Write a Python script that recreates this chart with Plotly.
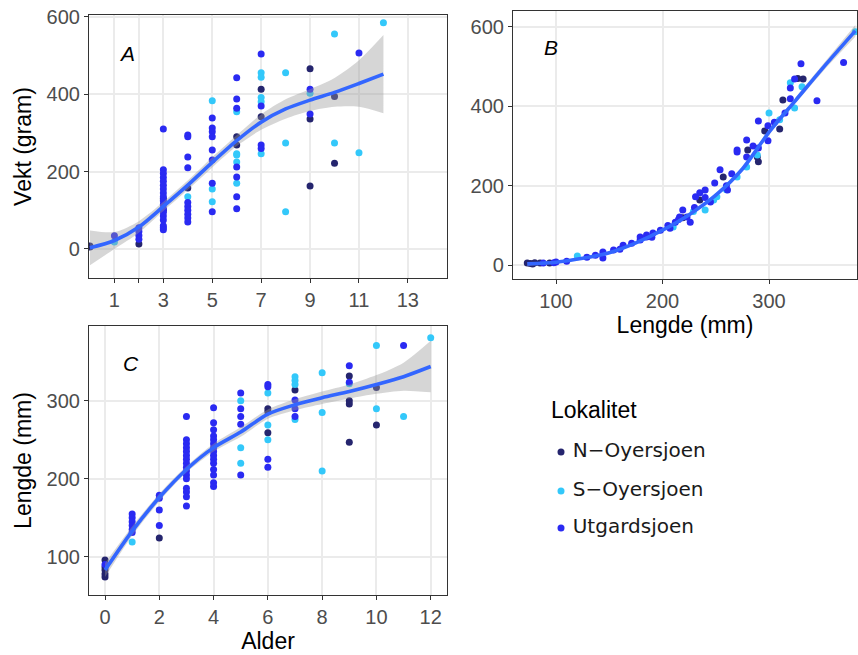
import plotly.graph_objects as go

# ---------------- data ----------------
groups = ["N\u2212Oyersjoen", "S\u2212Oyersjoen", "Utgardsjoen"]
colors = {"N\u2212Oyersjoen": "#25256e", "S\u2212Oyersjoen": "#33c8fa", "Utgardsjoen": "#2a2af2"}

# Panel A: age (years) vs weight (g)
a_age_N = [0, 0, 2, 4, 6, 6, 7, 7, 9, 9, 9, 10, 10, 3, 3]
a_wt_N = [5, 8, 13, 158, 290, 269, 413, 342, 466, 336, 163, 394, 222, 130, 100]
a_age_S = [1, 4, 5, 5, 5, 6, 6, 6, 6, 6, 7, 7, 7, 7, 7, 8, 8, 8, 9, 10, 10, 11, 12]
a_wt_S = [18, 135, 383, 155, 122, 355, 246, 243, 225, 170, 456, 444, 392, 381, 246, 456, 274, 96, 403, 556, 274, 249, 585]
a_age_U = [1, 2, 2, 2, 2, 3, 3, 3, 3, 3, 3, 3, 3, 3, 3, 3, 3, 3, 3, 3, 3, 3, 3,
           4, 4, 4, 4, 4, 4, 4, 4, 4, 4, 5, 5, 5, 5, 5, 5, 5, 5,
           6, 6, 6, 6, 6, 6, 6, 7, 7, 7, 7, 9, 9, 11]
a_wt_U = [34, 55, 45, 35, 25, 310, 205, 195, 185, 175, 165, 155, 145, 135, 125, 115, 105, 95, 85, 75, 60, 55, 50,
          295, 290, 238, 210, 120, 110, 100, 90, 80, 70, 339, 313, 303, 290, 256, 230, 170, 96,
          443, 388, 364, 212, 186, 135, 104, 504, 370, 269, 260, 413, 349, 507]

# Panel B: length (mm) vs weight (g)
b_len_N = [73, 78, 85, 94, 80, 76, 332, 313, 296, 310, 280, 290, 289, 257, 235, 219, 327]
b_wt_N = [5, 3, 5, 5, 6, 4, 469, 416, 338, 343, 290, 260, 272, 222, 164, 119, 470]
b_len_S = [120, 320, 331, 324, 300, 310, 289, 279, 270, 251, 240, 248, 210, 381, 260, 229]
b_wt_S = [23, 459, 449, 396, 383, 366, 277, 247, 222, 172, 139, 164, 96, 588, 190, 135]
b_len_U = [330, 370, 324, 320, 345, 320, 315, 290, 299, 299, 279, 270, 290, 270, 279, 254, 249, 261,
           231, 235, 240, 245, 219, 223, 226, 216, 212, 207, 198, 191, 185, 179, 129, 137, 144, 144,
           154, 163, 171, 179, 185, 100, 110, 160, 190, 205, 215, 230, 240, 260, 265, 285, 305, 88, 98]
b_wt_U = [507, 510, 469, 446, 414, 419, 383, 363, 351, 313, 315, 290, 295, 285, 272, 240, 207, 189,
          172, 182, 189, 159, 139, 121, 108, 121, 108, 93, 88, 81, 71, 63, 20, 25, 33, 18,
          38, 50, 55, 71, 76, 8, 10, 40, 70, 100, 115, 145, 170, 200, 230, 300, 360, 5, 6]

# Panel C: age (years) vs length (mm)
c_age_N = [0, 0, 0, 0, 0, 2, 6, 6, 6, 7, 9, 9, 9, 9, 10, 10]
c_len_N = [96, 87, 83, 74, 78, 124, 290, 286, 259, 314, 332, 300, 296, 247, 317, 269]
c_age_S = [1, 5, 5, 5, 6, 6, 6, 7, 7, 7, 7, 8, 8, 8, 9, 10, 10, 11, 12]
c_len_S = [119, 300, 240, 220, 310, 269, 250, 331, 326, 321, 276, 336, 285, 210, 322, 371, 290, 280, 381]
c_age_U = [0, 1, 1, 1, 1, 1, 1, 2, 2, 2, 2, 3, 3, 3, 3, 3, 3, 3, 3, 3, 3, 3, 3, 3, 3, 3, 3,
           4, 4, 4, 4, 4, 4, 4, 4, 4, 4, 4, 4, 4, 4, 4, 5, 5, 5, 5, 5, 6, 6, 6, 6,
           7, 7, 7, 9, 9, 11]
c_len_U = [90, 155, 150, 145, 140, 135, 131, 179, 175, 160, 140, 280, 250, 245, 240, 235, 230, 225, 220,
           215, 210, 205, 200, 188, 183, 177, 165, 291, 272, 263, 255, 250, 245, 240, 235, 230, 225,
           220, 212, 205, 195, 190, 310, 290, 280, 270, 205, 321, 318, 225, 215, 301, 290, 280, 345, 324, 371]

# Smoothed fits with confidence bands
fa_x = [0, 1, 2, 3, 4, 5, 6, 7, 8, 9, 10, 11, 12]
fa_y = [3, 22, 57, 110, 165, 224, 280, 328, 362, 385, 405, 428, 452]
fa_lo = [-42, 0, 42, 98, 153, 211, 266, 308, 337, 357, 368, 368, 351]
fa_hi = [48, 44, 72, 122, 177, 237, 294, 348, 387, 413, 442, 488, 553]

fb_x = [73, 100, 125, 150, 175, 200, 225, 250, 275, 300, 325, 350, 381]
fb_y = [3, 7, 17, 31, 56, 88, 127, 176, 242, 335, 415, 495, 590]
fb_lo = [-2, 4, 14, 28, 53, 85, 123, 172, 237, 329, 408, 486, 575]
fb_hi = [8, 10, 20, 34, 59, 91, 131, 180, 247, 341, 422, 504, 605]

fc_x = [0, 1, 2, 3, 4, 5, 6, 7, 8, 9, 10, 11, 12]
fc_y = [83, 133, 176, 212, 240, 260, 283, 295, 304, 312, 321, 331, 344]
fc_lo = [74, 127, 171, 208, 235, 254, 277, 288, 296, 303, 309, 313, 311]
fc_hi = [92, 139, 181, 216, 245, 266, 289, 302, 312, 321, 333, 349, 377]

FONT = "Liberation Sans, Arial, sans-serif"
LEGEND_FONT = "DejaVu Sans, Verdana, sans-serif"
W, H = 858, 655


def px_x(p):
    return p / W


def px_y(p):
    return 1 - p / H


fig = go.Figure()

panel_data = {
    ("x", "y"): {groups[0]: (a_age_N, a_wt_N), groups[1]: (a_age_S, a_wt_S), groups[2]: (a_age_U, a_wt_U)},
    ("x2", "y2"): {groups[0]: (b_len_N, b_wt_N), groups[1]: (b_len_S, b_wt_S), groups[2]: (b_len_U, b_wt_U)},
    ("x3", "y3"): {groups[0]: (c_age_N, c_len_N), groups[1]: (c_age_S, c_len_S), groups[2]: (c_age_U, c_len_U)},
}
fits = {
    ("x", "y"): (fa_x, fa_y, fa_lo, fa_hi),
    ("x2", "y2"): (fb_x, fb_y, fb_lo, fb_hi),
    ("x3", "y3"): (fc_x, fc_y, fc_lo, fc_hi),
}

for (xa, ya), d in panel_data.items():
    for g in groups:
        xs, ys = d[g]
        fig.add_trace(go.Scatter(
            x=xs, y=ys, mode="markers", xaxis=xa, yaxis=ya, showlegend=False,
            marker=dict(color=colors[g], size=7, line=dict(width=0)), name=g,
            hoverinfo="x+y+name"))
    fx, fy, flo, fhi = fits[(xa, ya)]
    # confidence band: lower edge, then upper edge filled down to it
    fig.add_trace(go.Scatter(
        x=fx, y=flo, mode="lines", line=dict(width=0, shape="spline", smoothing=0.8),
        xaxis=xa, yaxis=ya, showlegend=False, hoverinfo="skip"))
    fig.add_trace(go.Scatter(
        x=fx, y=fhi, mode="lines", line=dict(width=0, shape="spline", smoothing=0.8),
        fill="tonexty", fillcolor="rgba(153,153,153,0.4)",
        xaxis=xa, yaxis=ya, showlegend=False, hoverinfo="skip"))
    fig.add_trace(go.Scatter(
        x=fx, y=fy, mode="lines", line=dict(color="#3366FF", width=3.6, shape="spline", smoothing=0.8),
        xaxis=xa, yaxis=ya, showlegend=False, hoverinfo="skip"))

# Legend keys drawn on a hidden pixel-like axis
leg_x0, leg_top = 540, 380
leg_rows = [452, 491, 528]
fig.add_trace(go.Scatter(
    x=[561 - leg_x0] * 3, y=leg_rows, mode="markers+text", xaxis="x4", yaxis="y4",
    text=[" " + g for g in groups], textposition="middle right",
    textfont=dict(family=LEGEND_FONT, size=20, color="#1a1a1a"),
    marker=dict(color=[colors[g] for g in groups], size=7),
    showlegend=False, hoverinfo="skip"))

axis_common = dict(
    showline=True, mirror=True, linecolor="#333333", linewidth=1.1,
    ticks="outside", ticklen=4, tickwidth=1.1, tickcolor="#333333",
    showgrid=True, gridcolor="#ebebeb", gridwidth=1.5, zeroline=False,
    tickfont=dict(family=FONT, size=20, color="#4d4d4d"),
    autorange=False, automargin=False,
)
title_font = dict(family=FONT, size=23, color="#000000")

fig.update_layout(
    template="none",
    width=W, height=H, margin=dict(l=0, r=0, t=0, b=0),
    plot_bgcolor="white", paper_bgcolor="white",
    font=dict(family=FONT),
    xaxis=dict(axis_common, domain=[px_x(89), px_x(447)], range=[-0.04, 14.6],
               tickvals=[1, 2, 3, 5, 7, 9, 11, 13], ticktext=["1", "", "3", "5", "7", "9", "11", "13"],
               anchor="y"),
    yaxis=dict(axis_common, domain=[px_y(278), px_y(15)], range=[-75, 605],
               tickvals=[0, 200, 400, 600], anchor="x",
               title=dict(text="Vekt (gram)", font=title_font, standoff=8)),
    xaxis2=dict(axis_common, domain=[px_x(513), px_x(857)], range=[59.6, 382.6],
                tickvals=[100, 200, 300], anchor="y2",
                title=dict(text="Lengde (mm)", font=title_font, standoff=4)),
    yaxis2=dict(axis_common, domain=[px_y(279), px_y(11)], range=[-35, 640],
                tickvals=[0, 200, 400, 600], anchor="x2"),
    xaxis3=dict(axis_common, domain=[px_x(89), px_x(447)], range=[-0.59, 12.6],
                tickvals=[0, 2, 4, 6, 8, 10, 12], anchor="y3",
                title=dict(text="Alder", font=title_font, standoff=4)),
    yaxis3=dict(axis_common, domain=[px_y(595), px_y(326)], range=[51, 396],
                tickvals=[100, 200, 300], anchor="x3",
                title=dict(text="Lengde (mm)", font=title_font, standoff=8)),
    xaxis4=dict(domain=[px_x(leg_x0), 1], range=[0, W - leg_x0], visible=False, fixedrange=True),
    yaxis4=dict(domain=[px_y(560), px_y(leg_top)], range=[560, leg_top], visible=False, fixedrange=True),
)

# Panel letters and legend title
for txt, x, y in [("A", 127, 53), ("B", 551, 47), ("C", 131, 363)]:
    fig.add_annotation(text=f"<i>{txt}</i>", x=px_x(x), y=px_y(y), xref="paper", yref="paper",
                       xanchor="center", yanchor="middle",
                       showarrow=False, font=dict(family=FONT, size=21, color="#000000"))
fig.add_annotation(text="Lokalitet", x=px_x(549), y=px_y(410), xref="paper", yref="paper",
                   xanchor="left", yanchor="middle",
                   showarrow=False, font=dict(family=FONT, size=23, color="#000000"))

fig.write_html("out.html")
